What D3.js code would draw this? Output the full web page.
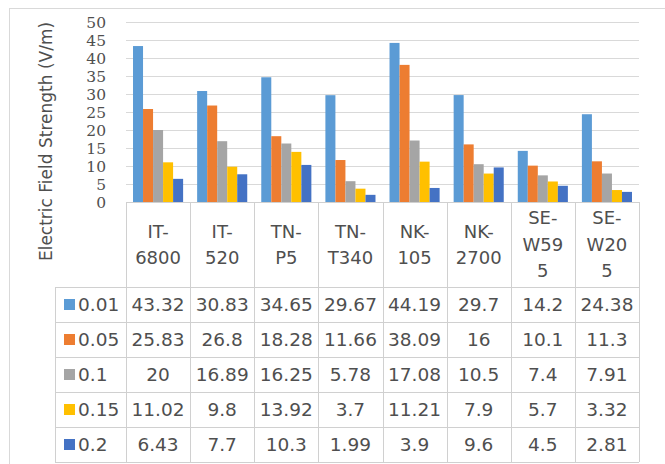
<!DOCTYPE html>
<html>
<head>
<meta charset="utf-8">
<script src="https://cdn.jsdelivr.net/npm/d3@7"></script>
<style>
  html, body { margin: 0; padding: 0; background: #fff; }
  svg { display: block; }
</style>
</head>
<body>
<svg id="chart" width="665" height="464"></svg>
<script>
// ---- data ----
const categories = ["IT-6800", "IT-520", "TN-P5", "TN-T340", "NK-105", "NK-2700", "SE-W595", "SE-W205"];
const categoryLines = [["IT-", "6800"], ["IT-", "520"], ["TN-", "P5"], ["TN-", "T340"], ["NK-", "105"], ["NK-", "2700"], ["SE-", "W59", "5"], ["SE-", "W20", "5"]];
const seriesNames = ["0.01", "0.05", "0.1", "0.15", "0.2"];
const series001 = [43.32, 30.83, 34.65, 29.67, 44.19, 29.7, 14.2, 24.38];
const series005 = [25.83, 26.8, 18.28, 11.66, 38.09, 16, 10.1, 11.3];
const series01  = [20, 16.89, 16.25, 5.78, 17.08, 10.5, 7.4, 7.91];
const series015 = [11.02, 9.8, 13.92, 3.7, 11.21, 7.9, 5.7, 3.32];
const series02  = [6.43, 7.7, 10.3, 1.99, 3.9, 9.6, 4.5, 2.81];
const seriesValues = [series001, series005, series01, series015, series02];
const seriesColors = ["#5B9BD5", "#ED7D31", "#A5A5A5", "#FFC000", "#4472C4"];
const yTicks = [0, 5, 10, 15, 20, 25, 30, 35, 40, 45, 50];
const yTitle = "Electric Field Strength (V/m)";

// ---- layout ----
const svg = d3.select("#chart");
const plotLeft = 126, plotRight = 639, plotTop = 22, plotBottom = 202;
const headerBottom = 287, rowH = 35, legendLeft = 55;
const gridColor = "#D9D9D9", tableColor = "#D0D0D0", textColor = "#4F4F4F";

// outer frame
svg.append("rect").attr("x", 9.5).attr("y", 8.5).attr("width", 700).attr("height", 500)
  .attr("fill", "none").attr("stroke", "#D9D9D9");

const x = d3.scaleBand().domain(categories).range([plotLeft, plotRight]).paddingInner(0).paddingOuter(0);
const xs = d3.scaleBand().domain(seriesNames).range([0, x.bandwidth()]).paddingInner(0).paddingOuter(0.7);
const y = d3.scaleLinear().domain([0, 50]).range([plotBottom, plotTop]);

// gridlines
svg.append("g").selectAll("line").data(yTicks.filter(t => t > 0)).join("line")
  .attr("x1", plotLeft).attr("x2", plotRight)
  .attr("y1", d => Math.round(y(d)) + 0.5).attr("y2", d => Math.round(y(d)) + 0.5)
  .attr("stroke", gridColor).attr("stroke-width", 1);

// y tick labels via axis
const yAxis = d3.axisLeft(y).tickValues(yTicks).tickSize(0).tickPadding(0);
const yg = svg.append("g").attr("transform", `translate(106,0)`).call(yAxis);
yg.select(".domain").remove();
yg.selectAll("text").attr("fill", textColor)
  .style("font-family", "'DejaVu Serif', serif").style("font-size", "15.5px")
  .attr("dy", "0.36em");

// y title
svg.append("text")
  .attr("transform", `translate(52,${(18 + 265) / 2}) rotate(-90)`)
  .attr("text-anchor", "middle").attr("fill", textColor)
  .style("font-family", "'DejaVu Sans', sans-serif").style("font-size", "17px")
  .text(yTitle);

// bars
const gBars = svg.append("g");
seriesNames.forEach((s, si) => {
  gBars.append("g").selectAll("rect").data(categories).join("rect")
    .attr("x", (c) => x(c) + xs(s))
    .attr("width", xs.bandwidth())
    .attr("y", (c, i) => y(seriesValues[si][i]))
    .attr("height", (c, i) => y(0) - y(seriesValues[si][i]))
    .attr("fill", seriesColors[si]);
});

// table lines
const tl = svg.append("g").attr("stroke", tableColor).attr("stroke-width", 1);
tl.append("line").attr("x1", plotLeft).attr("x2", plotRight).attr("y1", plotBottom + 0.5).attr("y2", plotBottom + 0.5);
const rowLines = d3.range(seriesNames.length + 1).map(i => headerBottom + i * rowH);
tl.selectAll(".h").data(rowLines).join("line")
  .attr("x1", legendLeft).attr("x2", plotRight)
  .attr("y1", d => d + 0.5).attr("y2", d => d + 0.5);
const colEdges = categories.map(c => x(c)).concat([plotRight]);
tl.selectAll(".v").data(colEdges).join("line")
  .attr("x1", d => Math.round(d) + 0.5).attr("x2", d => Math.round(d) + 0.5)
  .attr("y1", plotBottom).attr("y2", rowLines[rowLines.length - 1]);
tl.append("line").attr("x1", legendLeft + 0.5).attr("x2", legendLeft + 0.5)
  .attr("y1", headerBottom).attr("y2", rowLines[rowLines.length - 1]);

// header labels
const tableFont = "'DejaVu Sans', sans-serif";
const headG = svg.append("g").attr("fill", textColor).style("font-family", tableFont).style("font-size", "18px");
categories.forEach((c, i) => {
  const lines = categoryLines[i];
  const lh = 26.5;
  const cy = (plotBottom + headerBottom) / 2;
  const t = headG.append("text").attr("text-anchor", "middle");
  lines.forEach((ln, li) => {
    t.append("tspan").attr("x", x(c) + x.bandwidth() / 2)
      .attr("y", cy + (li - (lines.length - 1) / 2) * lh)
      .attr("dy", "0.36em").text(ln);
  });
});

// rows
const rowG = svg.append("g").attr("fill", textColor).style("font-family", tableFont).style("font-size", "18.5px");
seriesNames.forEach((s, si) => {
  const cy = headerBottom + si * rowH + rowH / 2;
  rowG.append("rect").attr("x", 64).attr("y", cy - 5.5).attr("width", 11).attr("height", 11).attr("fill", seriesColors[si]);
  rowG.append("text").attr("x", 78).attr("y", cy).attr("dy", "0.36em").text(s);
  rowG.append("g").selectAll("text").data(categories).join("text")
    .attr("x", c => x(c) + x.bandwidth() / 2).attr("y", cy).attr("dy", "0.36em")
    .attr("text-anchor", "middle")
    .text((c, i) => String(seriesValues[si][i]));
});
</script>
</body>
</html>
